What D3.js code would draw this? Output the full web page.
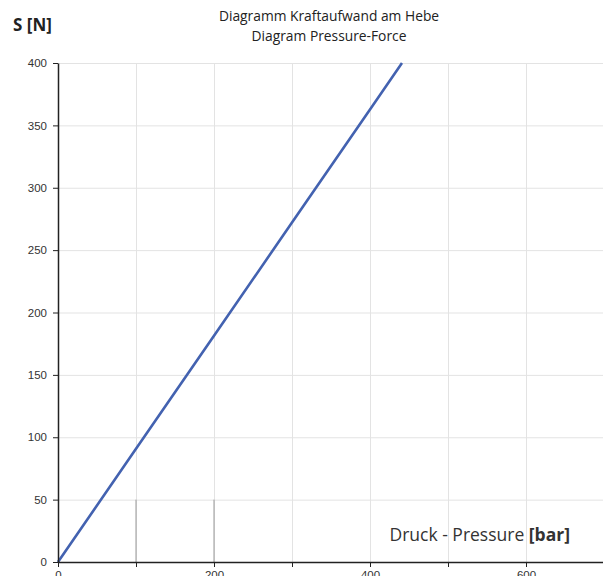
<!DOCTYPE html>
<html>
<head>
<meta charset="utf-8">
<script src="https://cdn.jsdelivr.net/npm/d3@7"></script>
<style>
  body { margin: 0; background: #fff; overflow: hidden; }
  svg { display: block; font-family: "Open Sans", "Noto Sans", sans-serif; }
  .grid line { stroke: #e3e3e3; stroke-width: 1; }
  .grid path { stroke: none; }
  .axis path, .axis line { stroke: #222; }
  .axis text { fill: #333; font-size: 11.5px; }
</style>
</head>
<body>
<div id="chart"></div>
<script>
// Data: pressure [bar] vs force [N]
var pressure = [0, 100, 200, 300, 400, 441];
var force = [0, 90.7, 181.4, 272.1, 362.8, 400];

var xTicks = [0, 100, 200, 300, 400, 500, 600, 700];
var xTickLabels = ["0", "", "200", "", "400", "", "600", ""];
var yTicks = [0, 50, 100, 150, 200, 250, 300, 350, 400];

var margin = {top: 63, right: 0, bottom: 14, left: 58},
    width = 603,
    height = 576,
    plotW = 546,
    plotH = height - margin.top - margin.bottom;

var x = d3.scaleLinear().domain([0, 700]).range([0, plotW]);
var y = d3.scaleLinear().domain([0, 400]).range([plotH, 0]);

var svg = d3.select("#chart")
    .append("svg")
        .attr("width", width)
        .attr("height", height);

var g = svg.append("g")
    .attr("transform", `translate(${margin.left},${margin.top})`);

// grid
g.append("g")
    .attr("class", "grid")
    .call(d3.axisLeft(y).tickValues(yTicks).tickSize(-plotW).tickFormat(""));
g.append("g")
    .attr("class", "grid")
    .call(d3.axisBottom(x).tickValues(xTicks.slice(1)).tickSize(plotH).tickFormat(""));

// darker stubs near the bottom at 100 and 200
g.selectAll(".stub")
    .data([100, 200])
    .enter().append("line")
    .attr("x1", function(d) { return x(d); })
    .attr("x2", function(d) { return x(d); })
    .attr("y1", y(50))
    .attr("y2", y(0))
    .style("stroke", "#999")
    .style("stroke-width", 1);

// the line
var line = d3.line()
    .x(function(d, i) { return x(pressure[i]); })
    .y(function(d) { return y(d); });

g.append("path")
    .datum(force)
    .attr("fill", "none")
    .style("stroke", "#4362b0")
    .style("stroke-width", 2.6)
    .attr("d", line);

// axes
g.append("g")
    .attr("class", "axis")
    .call(d3.axisLeft(y).tickValues(yTicks).tickSize(5).tickPadding(6).tickSizeOuter(0));

g.append("g")
    .attr("class", "axis")
    .attr("transform", "translate(0," + plotH + ")")
    .call(d3.axisBottom(x).tickValues(xTicks)
        .tickFormat(function(d, i) { return xTickLabels[i]; })
        .tickSize(5).tickPadding(4).tickSizeOuter(0));

g.selectAll(".axis path").style("stroke-width", 1.5);

// x axis label
var xl = svg.append("text")
    .attr("x", 570)
    .attr("y", 541)
    .attr("text-anchor", "end")
    .style("font-size", "17.5px")
    .style("fill", "#333");
xl.append("tspan").text("Druck - Pressure ");
xl.append("tspan").style("font-weight", "bold").text("[bar]");

// y axis label
svg.append("text")
    .attr("x", 13)
    .attr("y", 31)
    .style("font-size", "17px")
    .style("font-weight", "bold")
    .style("fill", "#222")
    .text("S [N]");

// title
svg.append("text")
    .attr("x", 329)
    .attr("y", 21)
    .attr("text-anchor", "middle")
    .style("font-size", "13.8px")
    .style("fill", "#222")
    .text("Diagramm Kraftaufwand am Hebe");
svg.append("text")
    .attr("x", 329)
    .attr("y", 41)
    .attr("text-anchor", "middle")
    .style("font-size", "13.8px")
    .style("fill", "#222")
    .text("Diagram Pressure-Force");
</script>
</body>
</html>
